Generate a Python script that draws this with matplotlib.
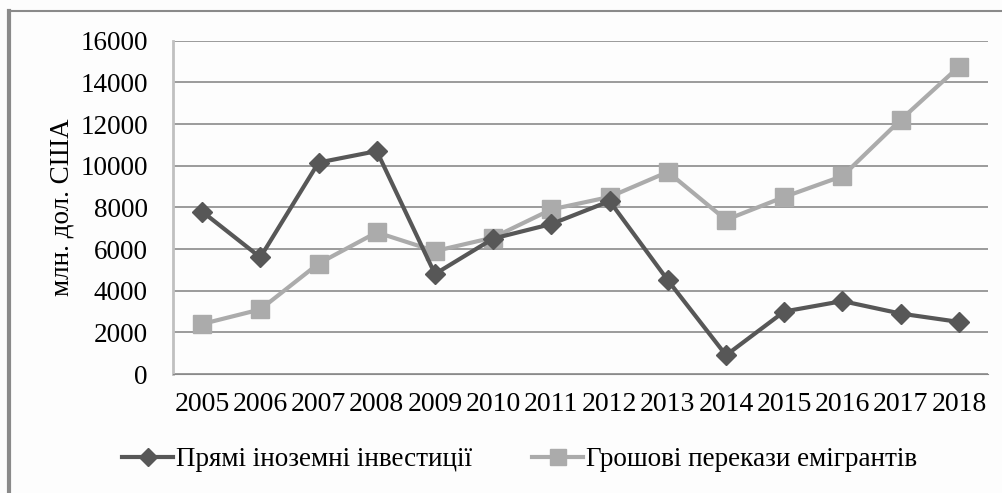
import matplotlib
matplotlib.use("Agg")
import matplotlib.pyplot as plt
from matplotlib.lines import Line2D

years = [str(y) for y in range(2005, 2019)]
fdi = [7800, 5600, 10150, 10700, 4800, 6500, 7200, 8300, 4500, 900, 3000, 3500, 2900, 2500]
remit = [2400, 3100, 5300, 6800, 5900, 6550, 7900, 8500, 9700, 7400, 8500, 9500, 12200, 14750]
yticks = list(range(0, 16001, 2000))

label_fdi = "Прямі іноземні інвестиції"
label_remit = "Грошові перекази емігрантів"
ylabel = "млн. дол. США"

dark = "#575757"
light = "#ababab"

plt.rcParams['font.family'] = ['Liberation Serif', 'DejaVu Serif']

fig = plt.figure(figsize=(10.03, 4.93), dpi=100)
fig.patch.set_facecolor("#fdfdfd")
ax = fig.add_axes([173/1003, 1-374/493, (988-173)/1003, (374-40.7)/493])
ax.set_facecolor("#fdfdfd")

x = list(range(len(years)))
ax.plot(x, remit, color=light, lw=3, marker='s', ms=13, zorder=3)
ax.plot(x, fdi, color=dark, lw=3, marker='D', ms=10, zorder=4)

ax.set_xlim(-0.5, len(years) - 0.5)
ax.set_ylim(0, 16000)
ax.set_yticks(yticks)
ax.set_yticklabels([str(v) for v in yticks], fontsize=19.5)
ax.set_xticks(x)
ax.set_xticklabels(years, fontsize=20)
ax.tick_params(length=0)
ax.tick_params(axis='y', pad=18)
ax.tick_params(axis='x', pad=13)
ax.yaxis.grid(True, color="#8a8a8a", lw=1.2)
ax.set_axisbelow(True)
for s in ['top', 'right']:
    ax.spines[s].set_visible(False)
ax.spines['bottom'].set_color("#8a8a8a")
ax.spines['left'].set_color("#c0c0c0")
ax.spines['left'].set_linewidth(2)

fig.text(62/1003, 1-207/493, ylabel, rotation=90, fontsize=19.5, ha='center', va='center')

h1 = Line2D([], [], color=dark, lw=3, marker='D', ms=9)
h2 = Line2D([], [], color=light, lw=3, marker='s', ms=11)
fig.legend([h1, h2], [label_fdi, label_remit], loc='center', bbox_to_anchor=(0.518, 1-460/493),
           ncol=2, frameon=False, fontsize=19.5, handlelength=1.9, handletextpad=0.1,
           columnspacing=2.2, borderpad=0, borderaxespad=0)

# outer frame (left and top edges only visible)
fig.add_artist(Line2D([9/1003, 9/1003], [0, 1-11/493], color="#8a8a8a", lw=3, transform=fig.transFigure))
fig.add_artist(Line2D([9/1003, 1], [1-11/493, 1-11/493], color="#8a8a8a", lw=1.5, transform=fig.transFigure))

fig.savefig("out.png", dpi=100, facecolor=fig.get_facecolor())
